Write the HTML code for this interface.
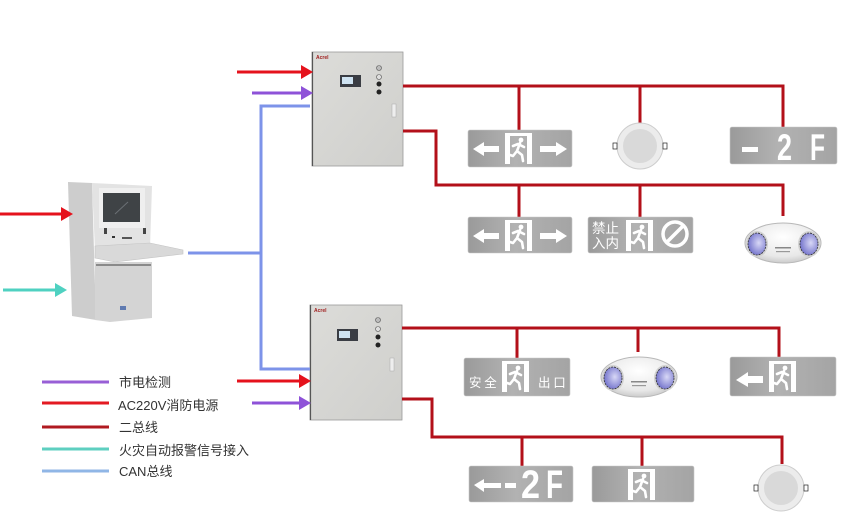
<!DOCTYPE html>
<html><head><meta charset="utf-8"><style>
html,body{margin:0;padding:0;background:#fff;}
svg{display:block;}
</style></head><body>
<svg width="863" height="526" viewBox="0 0 863 526" xmlns="http://www.w3.org/2000/svg" font-family="Liberation Sans, 'Noto Sans CJK SC', sans-serif">
<defs>
<linearGradient id="sg" x1="0" y1="0" x2="1" y2="0">
<stop offset="0" stop-color="#9a9a9a"/><stop offset="0.45" stop-color="#b2b2b2"/><stop offset="1" stop-color="#a4a4a4"/></linearGradient>
<linearGradient id="pg" x1="0" y1="0" x2="1" y2="1">
<stop offset="0" stop-color="#dcdcd9"/><stop offset="1" stop-color="#cfcfcc"/></linearGradient>
<radialGradient id="spg" cx="0.5" cy="0.35" r="0.7">
<stop offset="0" stop-color="#ffffff"/><stop offset="0.7" stop-color="#e8e8e8"/><stop offset="1" stop-color="#c2c2c2"/></radialGradient>
<radialGradient id="lg" cx="0.6" cy="0.45" r="0.6">
<stop offset="0" stop-color="#d8d8f6"/><stop offset="1" stop-color="#7474cc"/></radialGradient>
<g id="fm">
<rect x="0" y="0" width="5" height="31" fill="#fff"/>
<rect x="0" y="0" width="27" height="3" fill="#fff"/>
<rect x="22" y="0" width="5" height="31" fill="#fff"/>
<circle cx="16" cy="7" r="2.4" fill="#fff"/>
<path d="M15 10 L12 18 M8 13 L13 11 L19 14 M12 18 L8 23 L5 22 M12 18 L17 22 L18 28" stroke="#fff" stroke-width="2.6" fill="none" stroke-linecap="round" stroke-linejoin="round"/>
</g>
<g id="dl">
<circle cx="0" cy="0" r="23" fill="#ececec" stroke="#cdcdcd"/>
<circle cx="0" cy="0" r="17" fill="#d9d9d9"/>
<rect x="-27" y="-3" width="4" height="6" fill="#fff" stroke="#222" stroke-width="0.7"/>
<rect x="23" y="-3" width="4" height="6" fill="#fff" stroke="#222" stroke-width="0.7"/>
</g>
<g id="sp">
<ellipse cx="0" cy="0" rx="38" ry="20" fill="url(#spg)" stroke="#b8b8b8"/>
<ellipse cx="-26" cy="1" rx="11" ry="13" fill="#d2d2d2"/>
<ellipse cx="-26" cy="1" rx="9" ry="11" fill="url(#lg)" stroke="#333" stroke-width="0.8" stroke-dasharray="2 1"/>
<ellipse cx="26" cy="1" rx="11" ry="13" fill="#d2d2d2"/>
<ellipse cx="26" cy="1" rx="9" ry="11" fill="url(#lg)" stroke="#333" stroke-width="0.8" stroke-dasharray="2 1"/>
<rect x="-8" y="4" width="16" height="1.5" fill="#888"/>
<rect x="-7" y="8" width="14" height="1.2" fill="#999"/>
</g>
</defs>

<!-- console -->
<polygon points="68,182 92,183 96,320 72,316" fill="#cdcdcd"/>
<polygon points="92,183 152,186 150,248 95,250" fill="#e3e3e3"/>
<rect x="99" y="188" width="46" height="40" fill="#efefef"/>
<rect x="103" y="193" width="37" height="29" fill="#3f4346"/>
<path d="M115 214 L128 202" stroke="#6b7075" stroke-width="1"/>
<rect x="104" y="228" width="3" height="6" fill="#444"/>
<rect x="143" y="228" width="3" height="6" fill="#444"/>
<rect x="112" y="236" width="3" height="2" fill="#333"/>
<rect x="122" y="237" width="10" height="2" fill="#555"/>
<polygon points="95,246 150,243 183,250 183,254 115,262 95,258" fill="#d9d9d9" stroke="#c4c4c4" stroke-width="0.6"/>
<polygon points="95,262 152,262 152,318 110,322 95,320" fill="#d4d4d4"/>
<rect x="96" y="264" width="55" height="2" fill="#8a8a8a"/>
<rect x="120" y="306" width="6" height="4" fill="#5f7ab0"/>

<!-- panels -->
<rect x="312" y="52" width="91" height="114" fill="url(#pg)" stroke="#9a9a9a" stroke-width="0.8"/>
<line x1="312.5" y1="52" x2="312.5" y2="166" stroke="#555" stroke-width="1.2"/>
<text x="316" y="59" font-size="5" font-weight="bold" fill="#a02020">Acrel</text>
<rect x="340" y="75" width="21" height="12" fill="#3a3d44"/>
<rect x="342" y="77" width="11" height="7" fill="#cfe3f2"/>
<circle cx="379" cy="68" r="2.5" fill="#bbb" stroke="#555" stroke-width="0.6"/>
<circle cx="379" cy="77" r="2.5" fill="#ddd" stroke="#555" stroke-width="0.6"/>
<circle cx="379" cy="84" r="2.5" fill="#222"/>
<circle cx="379" cy="92" r="2.5" fill="#222"/>
<rect x="392" y="104" width="4" height="13" fill="#eee" stroke="#aaa" stroke-width="0.5"/>

<rect x="310" y="305" width="92" height="115" fill="url(#pg)" stroke="#9a9a9a" stroke-width="0.8"/>
<line x1="310.5" y1="305" x2="310.5" y2="420" stroke="#555" stroke-width="1.2"/>
<text x="314" y="312" font-size="5" font-weight="bold" fill="#a02020">Acrel</text>
<rect x="337" y="329" width="21" height="12" fill="#3a3d44"/>
<rect x="339" y="331" width="11" height="7" fill="#cfe3f2"/>
<circle cx="378" cy="320" r="2.5" fill="#bbb" stroke="#555" stroke-width="0.6"/>
<circle cx="378" cy="329" r="2.5" fill="#ddd" stroke="#555" stroke-width="0.6"/>
<circle cx="378" cy="337" r="2.5" fill="#222"/>
<circle cx="378" cy="345" r="2.5" fill="#222"/>
<rect x="390" y="358" width="4" height="13" fill="#eee" stroke="#aaa" stroke-width="0.5"/>

<!-- CAN lines -->
<g stroke="#7d93e9" stroke-width="3" fill="none">
<line x1="188" y1="253" x2="261" y2="253"/>
<polyline points="310,106 261,106 261,369 310,369"/>
</g>

<!-- input arrows -->
<g stroke-width="3">
<line x1="237" y1="72" x2="303" y2="72" stroke="#e5121c"/>
<line x1="252" y1="93" x2="303" y2="93" stroke="#8e52d8"/>
<line x1="237" y1="381" x2="301" y2="381" stroke="#e5121c"/>
<line x1="252" y1="403" x2="301" y2="403" stroke="#8e52d8"/>
<line x1="0" y1="214" x2="62" y2="214" stroke="#e5121c"/>
<line x1="3" y1="290" x2="56" y2="290" stroke="#4fd1c1"/>
</g>
<polygon points="301,65 313,72 301,79" fill="#e5121c"/>
<polygon points="301,86 313,93 301,100" fill="#8e52d8"/>
<polygon points="299,374 311,381 299,388" fill="#e5121c"/>
<polygon points="299,396 311,403 299,410" fill="#8e52d8"/>
<polygon points="61,207 73,214 61,221" fill="#e5121c"/>
<polygon points="55,283 67,290 55,297" fill="#4fd1c1"/>

<!-- bus lines -->
<g stroke="#b3101a" stroke-width="3" fill="none">
<polyline points="403,86 783,86 783,128"/>
<line x1="519" y1="86" x2="519" y2="131"/>
<line x1="640" y1="86" x2="640" y2="124"/>
<polyline points="403,131 436,131 436,185 783,185 783,216"/>
<line x1="519" y1="185" x2="519" y2="218"/>
<line x1="640" y1="185" x2="640" y2="218"/>
<polyline points="402,328 779,328 779,358"/>
<line x1="517" y1="328" x2="517" y2="359"/>
<line x1="638" y1="328" x2="638" y2="352"/>
<polyline points="402,399 432,399 432,437 782,437 782,464"/>
<line x1="522" y1="437" x2="522" y2="467"/>
<line x1="642" y1="437" x2="642" y2="467"/>
</g>

<!-- top row 1 -->
<g transform="translate(468,130)">
<rect width="104" height="37" rx="2" fill="url(#sg)" stroke="#c8c8c8" stroke-width="0.6"/>
<polygon points="5,19 16,12 16,16 31,16 31,22 16,22 16,26" fill="#fff"/>
<use href="#fm" x="37" y="3"/>
<polygon points="99,19 88,12 88,16 72,16 72,22 88,22 88,26" fill="#fff"/>
</g>
<use href="#dl" x="640" y="146"/>
<g transform="translate(730,127)">
<rect width="107" height="37" rx="2" fill="url(#sg)" stroke="#c8c8c8" stroke-width="0.6"/>
<rect x="12" y="20" width="16" height="5" fill="#fff"/>
<text x="47" y="33" font-size="37" font-weight="bold" fill="#fff" textLength="15" lengthAdjust="spacingAndGlyphs">2</text>
<text x="80" y="33" font-size="37" font-weight="bold" fill="#fff" textLength="15" lengthAdjust="spacingAndGlyphs">F</text>
</g>

<!-- top row 2 -->
<g transform="translate(468,217)">
<rect width="104" height="36" rx="2" fill="url(#sg)" stroke="#c8c8c8" stroke-width="0.6"/>
<polygon points="5,19 16,12 16,16 31,16 31,22 16,22 16,26" fill="#fff"/>
<use href="#fm" x="37" y="3"/>
<polygon points="99,19 88,12 88,16 72,16 72,22 88,22 88,26" fill="#fff"/>
</g>
<g transform="translate(588,217)">
<rect width="105" height="36" rx="2" fill="url(#sg)" stroke="#c8c8c8" stroke-width="0.6"/>
<text x="4" y="16" font-size="13.5" fill="#fff" font-family="'Noto Sans CJK SC', sans-serif">禁止</text>
<text x="4" y="31" font-size="13.5" fill="#fff" font-family="'Noto Sans CJK SC', sans-serif">入内</text>
<use href="#fm" x="38" y="3"/>
<circle cx="87" cy="17" r="12" fill="none" stroke="#fff" stroke-width="3.5"/>
<line x1="79" y1="25" x2="95" y2="9" stroke="#fff" stroke-width="3.5"/>
</g>
<use href="#sp" x="783" y="243"/>

<!-- bottom row 1 -->
<g transform="translate(464,358)">
<rect width="106" height="38" rx="2" fill="url(#sg)" stroke="#c8c8c8" stroke-width="0.6"/>
<text x="5" y="29" font-size="12.5" fill="#fff" font-family="'Noto Sans CJK SC', sans-serif">安 全</text>
<use href="#fm" x="38" y="3"/>
<text x="74" y="29" font-size="12.5" fill="#fff" font-family="'Noto Sans CJK SC', sans-serif">出 口</text>
</g>
<use href="#sp" x="639" y="377"/>
<g transform="translate(730,357)">
<rect width="106" height="39" rx="2" fill="url(#sg)" stroke="#c8c8c8" stroke-width="0.6"/>
<polygon points="6,23 18,15 18,19 33,19 33,26 18,26 18,30" fill="#fff"/>
<use href="#fm" x="39" y="4"/>
</g>

<!-- bottom row 2 -->
<g transform="translate(469,466)">
<rect width="104" height="36" rx="2" fill="url(#sg)" stroke="#c8c8c8" stroke-width="0.6"/>
<polygon points="5,19 15,13 15,17 32,17 32,22 15,22 15,26" fill="#fff"/>
<rect x="36" y="17" width="11" height="5" fill="#fff"/>
<text x="52" y="32" font-size="40" font-weight="bold" fill="#fff" textLength="19" lengthAdjust="spacingAndGlyphs">2</text>
<text x="77" y="32" font-size="40" font-weight="bold" fill="#fff" textLength="17" lengthAdjust="spacingAndGlyphs">F</text>
</g>
<g transform="translate(592,466)">
<rect width="102" height="36" rx="2" fill="url(#sg)" stroke="#c8c8c8" stroke-width="0.6"/>
<use href="#fm" x="36" y="3"/>
</g>
<use href="#dl" x="781" y="488"/>

<!-- legend -->
<g stroke-width="3">
<line x1="42" y1="382" x2="109" y2="382" stroke="#985fd6"/>
<line x1="42" y1="403" x2="109" y2="403" stroke="#e31a22"/>
<line x1="42" y1="427" x2="109" y2="427" stroke="#b01a20"/>
<line x1="42" y1="449" x2="109" y2="449" stroke="#5ecfc0"/>
<line x1="42" y1="471" x2="109" y2="471" stroke="#90b6e6"/>
</g>
<g font-size="13" fill="#333" font-family="'Liberation Sans', 'Noto Sans CJK SC', sans-serif">
<text x="119" y="387">市电检测</text>
<text x="118" y="410">AC220V消防电源</text>
<text x="119" y="432">二总线</text>
<text x="119" y="455">火灾自动报警信号接入</text>
<text x="119" y="476">CAN总线</text>
</g>
</svg>
</body></html>
